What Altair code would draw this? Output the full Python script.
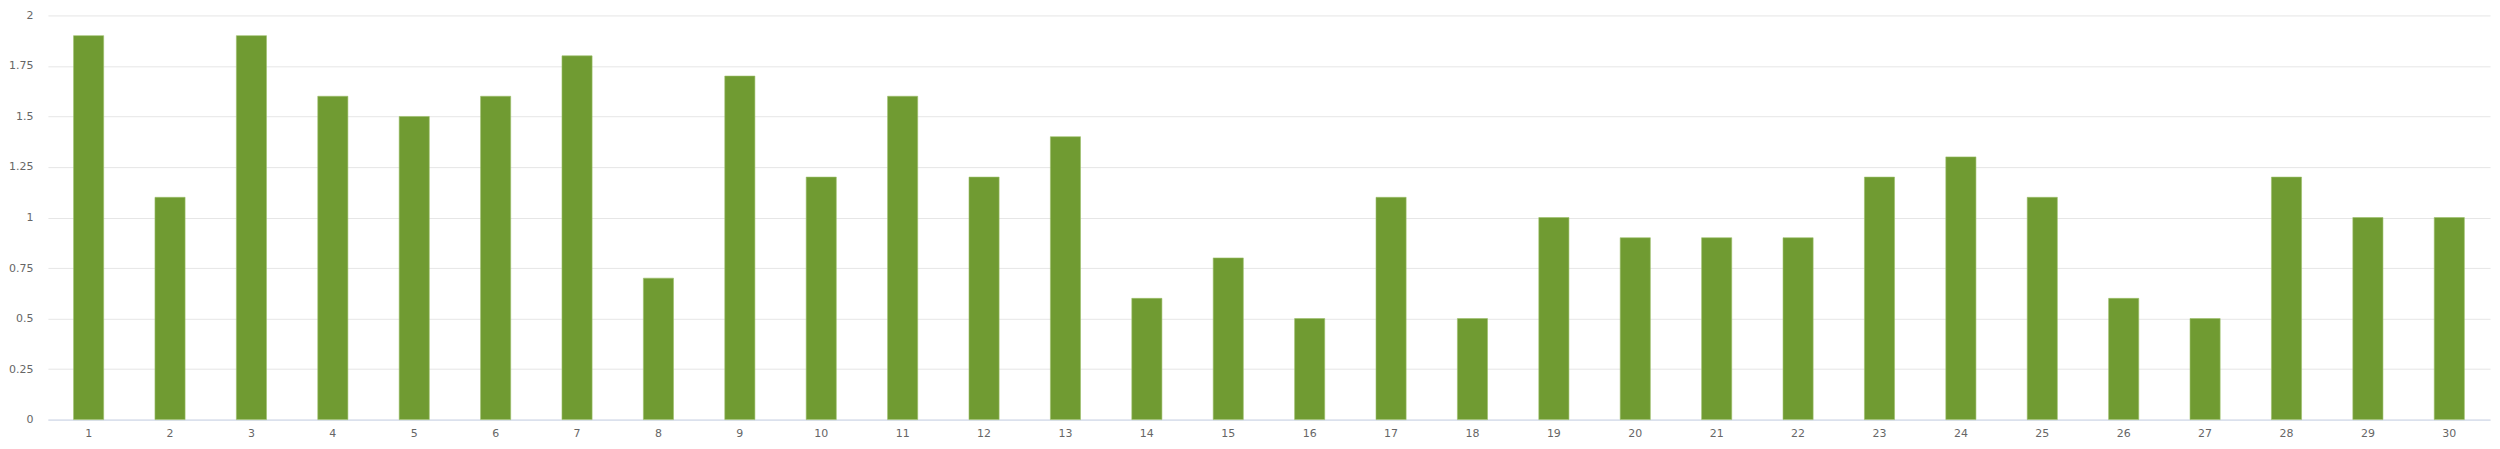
import altair as alt
import pandas as pd

days = [str(i) for i in range(1, 31)]
values = [1.9, 1.1, 1.9, 1.6, 1.5, 1.6, 1.8, 0.7, 1.7, 1.2,
          1.6, 1.2, 1.4, 0.6, 0.8, 0.5, 1.1, 0.5, 1.0, 0.9,
          0.9, 0.9, 1.2, 1.3, 1.1, 0.6, 0.5, 1.2, 1.0, 1.0]
y_ticks = [0, 0.25, 0.5, 0.75, 1, 1.25, 1.5, 1.75, 2]

df = pd.DataFrame({"day": days, "value": values})

chart = alt.Chart(df).mark_bar(color="#709b32", stroke="#9cc06a", strokeWidth=0.6).encode(
    x=alt.X("day:N", sort=days, title=None,
            scale=alt.Scale(paddingInner=0.63, paddingOuter=0.315),
            axis=alt.Axis(labelAngle=0, ticks=False, domainColor="#ccd6eb",
                          labelColor="#666666", labelFontSize=11, labelPadding=8,
                          labelFont="DejaVu Sans", grid=False)),
    y=alt.Y("value:Q", title=None,
            scale=alt.Scale(domain=[0, 2], nice=False),
            axis=alt.Axis(values=y_ticks, ticks=False, domain=False,
                          gridColor="#e6e6e6", labelColor="#666666", labelFontSize=11,
                          labelPadding=15, labelFont="DejaVu Sans",
                          minExtent=35, maxExtent=35,
                          labelExpr="format(datum.value, '~g')")),
).properties(
    width=2447, height=405,
    padding={"left": 0, "top": 1, "right": 2, "bottom": 2},
).configure_view(stroke=None)

chart.save("out.html", embed_options={"renderer": "svg", "actions": False})
